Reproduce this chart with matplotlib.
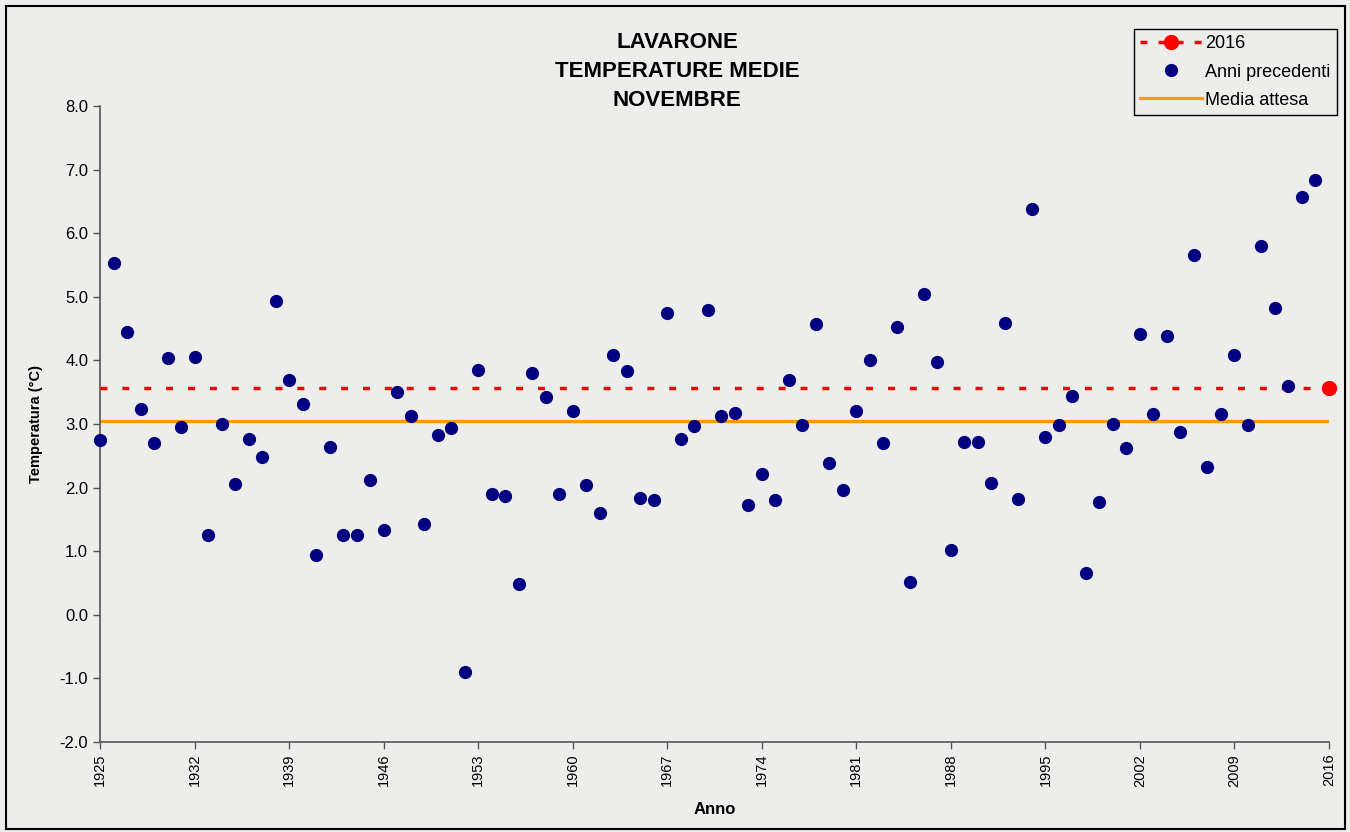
import numpy as np
import matplotlib
matplotlib.use("Agg")
import matplotlib.pyplot as plt
from matplotlib.lines import Line2D
from matplotlib.patches import Rectangle

plt.rcParams["font.family"] = ["Liberation Sans", "DejaVu Sans"]

# dati: temperature medie di novembre a Lavarone
anni = np.arange(1925, 2016)
temperature = [
    2.75, 5.53, 4.45, 3.24, 2.70, 4.04, 2.95, 4.05, 1.26, 3.00,
    2.05, 2.77, 2.48, 4.94, 3.69, 3.32, 0.94, 2.64, 1.26, 1.26,
    2.12, 1.34, 3.50, 3.12, 1.42, 2.82, 2.94, -0.90, 3.85, 1.90,
    1.87, 0.48, 3.80, 3.42, 1.90, 3.20, 2.04, 1.60, 4.09, 3.84,
    1.83, 1.80, 4.74, 2.76, 2.97, 4.79, 3.12, 3.17, 1.72, 2.22,
    1.81, 3.69, 2.98, 4.57, 2.39, 1.97, 3.20, 4.00, 2.70, 4.52,
    0.51, 5.04, 3.97, 1.02, 2.72, 2.72, 2.08, 4.59, 1.82, 6.38,
    2.79, 2.98, 3.44, 0.66, 1.78, 3.00, 2.63, 4.42, 3.15, 4.39,
    2.88, 5.66, 2.32, 3.16, 4.09, 2.99, 5.80, 4.83, 3.60, 6.57,
    6.84,
]
anno_corrente = 2016
temp_corrente = 3.57
media_attesa = 3.05
anni_linea = [1925, 2016]
tick_anni = np.arange(1925, 2017, 7)
tick_temp = np.arange(-2.0, 8.1, 1.0)

bg = "#EDEDEB"
rosso = "#FF0000"

fig = plt.figure(figsize=(13.5, 8.32), dpi=100, facecolor=bg)
ax = fig.add_axes([100 / 1350, 1 - 742 / 832, 1229 / 1350, 636 / 832])
ax.set_facecolor(bg)

# linea 2016 tratteggiata con pallino solo sull'ultimo anno
ax.plot(anni_linea, [temp_corrente, temp_corrente], color=rosso, linewidth=2.5,
        dashes=(2, 4.3), zorder=3)
ax.plot([anno_corrente], [temp_corrente], linestyle="none", marker="o",
        markersize=10, color=rosso, clip_on=False, zorder=5)
h_prec, = ax.plot(anni, temperature, linestyle="none", marker="o", markersize=8.5,
                  color="#000080", label="Anni precedenti", clip_on=False, zorder=4)
h_media, = ax.plot(anni_linea, [media_attesa, media_attesa], color="#FF9900",
                   linewidth=2.3, label="Media attesa", zorder=2)

ax.set_xlim(1925, 2016)
ax.set_ylim(-2.0, 8.0)
ax.set_xticks(tick_anni)
ax.set_xticklabels([str(a) for a in tick_anni], rotation=90, fontsize=10.5)
ax.set_yticks(tick_temp)
ax.set_yticklabels([f"{v:.1f}" for v in tick_temp], fontsize=12)
ax.tick_params(direction="out", length=5, width=1, color="#555555")

for s in ["top", "right"]:
    ax.spines[s].set_visible(False)
for s in ["left", "bottom"]:
    ax.spines[s].set_color("#555555")
    ax.spines[s].set_linewidth(1.2)

ax.set_xlabel("Anno", fontsize=12, fontweight="bold", labelpad=11)
ax.set_ylabel("Temperatura (°C)", fontsize=10.5, fontweight="bold", labelpad=12)

fig.text(0.5015, 1 - 32 / 832, "LAVARONE\nTEMPERATURE MEDIE\nNOVEMBRE",
         ha="center", va="top", fontsize=16, fontweight="bold", linespacing=1.5)

# voce di legenda per il 2016: tratteggio con pallino al centro
h_2016 = Line2D([], [], color=rosso, linewidth=2.5, dashes=(2, 3.2),
                marker="o", markersize=10)

leg = fig.legend([h_2016, h_prec, h_media],
                 [str(anno_corrente), "Anni precedenti", "Media attesa"],
                 loc="upper right", bbox_to_anchor=(1337 / 1350, 1 - 29 / 832),
                 fontsize=13, frameon=True, fancybox=False, edgecolor="black",
                 facecolor=bg, framealpha=1, handlelength=3.4, handletextpad=0.2,
                 borderpad=0.35, labelspacing=0.62, borderaxespad=0, numpoints=1)
leg.get_frame().set_linewidth(1.0)

fig.patches.append(Rectangle((6 / 1350, 3 / 832), 1339 / 1350, 823 / 832,
                             transform=fig.transFigure, fill=False,
                             edgecolor="black", linewidth=1.5))

fig.savefig("out.png", dpi=100, facecolor=bg)
